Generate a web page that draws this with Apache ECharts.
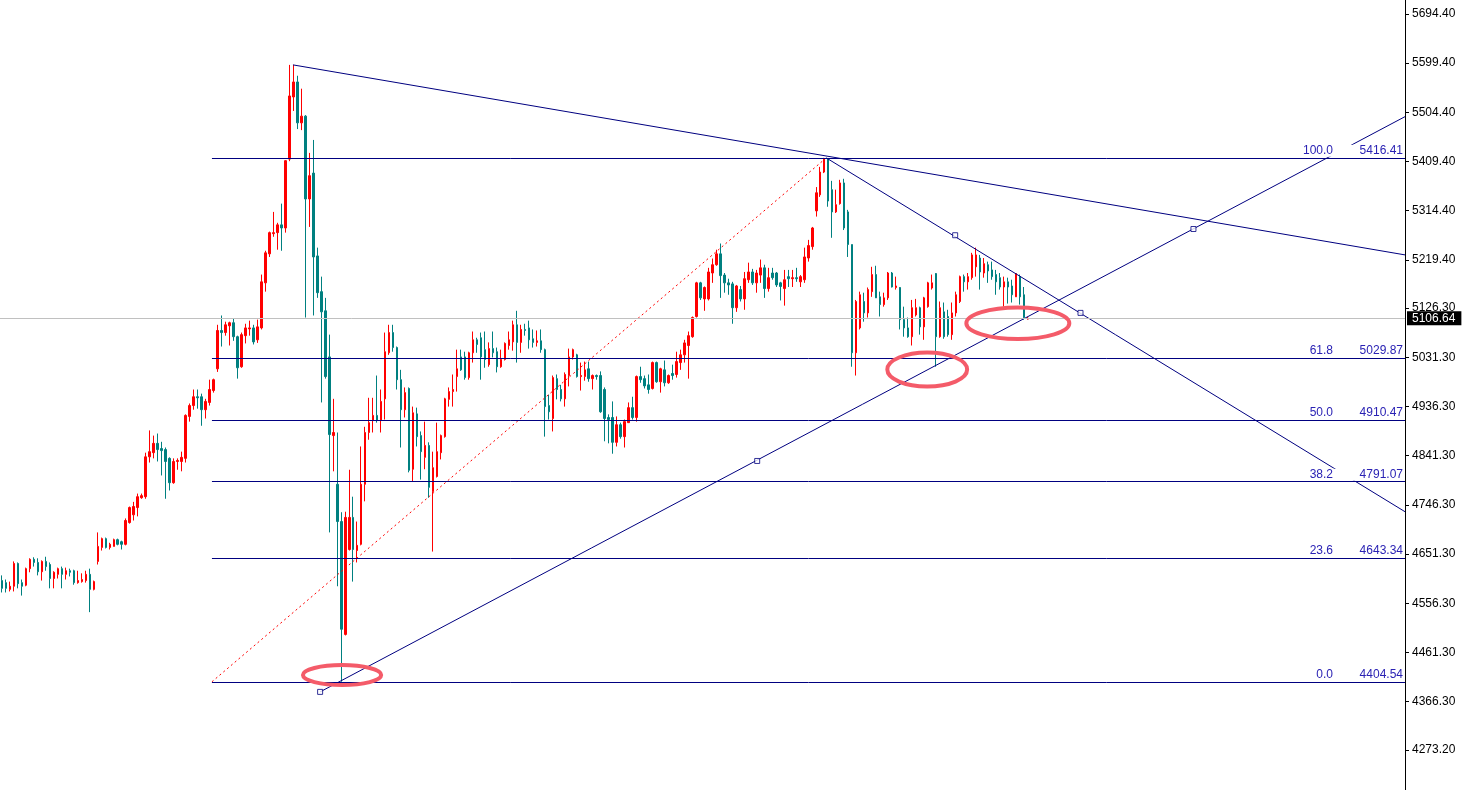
<!DOCTYPE html>
<html>
<head>
<meta charset="utf-8">
<title>fib chart</title>
<script src="https://cdn.jsdelivr.net/npm/echarts@6.0.0/dist/echarts.min.js"></script>
<style>
    html, body {margin: 0;padding: 0;background: #fff;}
    #chart {width: 1470px;height: 790px;}
</style>
</head>
<body>
<div id="chart"></div>
<script>
// candles: [open, close, low, high]
var candles = [
    [4600,4585,4577,4610],[4596,4585,4577,4602],[4583,4589,4579,4598],[4589,4633,4579,4637],[4633,4594,4585,4635],
    [4596,4589,4571,4602],[4591,4623,4589,4625],[4623,4641,4616,4643],[4641,4635,4627,4645],[4635,4617,4610,4643],
    [4617,4637,4600,4639],[4637,4627,4619,4646],[4631,4604,4585,4635],[4604,4616,4585,4618],[4612,4623,4604,4625],
    [4623,4612,4585,4627],[4612,4619,4602,4625],[4619,4616,4608,4623],[4619,4596,4592,4621],[4596,4600,4594,4619],
    [4598,4602,4596,4614],[4600,4612,4596,4619],[4612,4583,4539,4623],[4583,4598,4581,4600],[4637,4666,4631,4693],
    [4664,4681,4658,4683],[4681,4664,4662,4683],[4664,4670,4660,4673],[4666,4679,4666,4681],[4679,4670,4668,4681],
    [4675,4670,4660,4677],[4670,4716,4668,4720],[4712,4741,4710,4743],[4727,4743,4716,4752],[4741,4762,4724,4768],
    [4760,4764,4758,4768],[4762,4839,4758,4847],[4839,4849,4828,4890],[4847,4865,4836,4880],[4865,4853,4830,4884],
    [4855,4851,4803,4868],[4853,4830,4758,4857],[4836,4789,4774,4838],[4789,4830,4787,4836],[4830,4832,4814,4836],
    [4830,4838,4811,4849],[4836,4919,4828,4921],[4917,4938,4907,4942],[4938,4955,4930,4969],[4955,4953,4932,4969],
    [4955,4930,4899,4961],[4930,4946,4913,4951],[4944,4969,4938,4988],[4967,4988,4963,4990],[5009,5083,5003,5094],
    [5083,5079,5052,5112],[5079,5094,5073,5100],[5092,5098,5054,5100],[5098,5071,5063,5106],[5071,5011,4990,5073],
    [5013,5075,5011,5079],[5073,5088,5058,5096],[5086,5088,5073,5102],[5088,5061,5056,5094],[5065,5090,5059,5104],
    [5088,5177,5085,5191],[5175,5233,5158,5237],[5231,5272,5225,5274],[5270,5272,5264,5312],[5272,5287,5239,5291],
    [5287,5281,5237,5328],[5281,5411,5272,5412],[5414,5536,5410,5596],[5534,5563,5507,5596],[5563,5484,5472,5575],
    [5484,5497,5470,5550],[5497,5337,5108,5499],[5337,5382,5283,5426],[5387,5225,5112,5451],[5227,5156,5146,5243],
    [5158,5119,4944,5187],[5121,4994,4990,5146],[5032,4882,4693,5075],[4880,4886,4811,4951],[4786,4714,4589,4886],
    [4714,4506,4404.54,4732],[4496,4722,4494,4733],[4660,4722,4658,4814],[4722,4660,4598,4762],[4658,4668,4635,4714],
    [4670,4786,4668,4859],[4786,4886,4753,4897],[4886,4905,4872,4953],[4909,4919,4886,4953],[4919,4909,4905,4996],
    [4909,4946,4886,4969],[4951,5042,4911,5079],[5040,5079,5036,5094],[5079,5050,5042,5094],[5050,4988,4969,5052],
    [4988,4930,4857,5007],[4930,4963,4915,4973],[4971,4813,4809,4973],[4815,4924,4791,4936],[4922,4878,4859,4934],
    [4880,4849,4795,4888],[4838,4861,4815,4907],[4861,4780,4760,4867],[4772,4818,4656,4849],[4801,4849,4799,4905],
    [4847,4880,4834,4882],[4878,4951,4876,4953],[4950,4965,4936,4973],[4965,4969,4936,4998],[4994,5009,4965,5046],
    [5032,5007,5005,5046],[5032,4992,4988,5042],[4992,5040,4988,5042],[5040,5065,5021,5081],[5065,5056,5040,5069],
    [5069,5032,4988,5079],[5046,5027,5011,5081],[5017,5048,5013,5060],[5048,5040,5031,5081],[5042,5013,5002,5050],
    [5013,5027,5011,5046],[5027,5058,5025,5060],[5054,5065,5046,5081],[5061,5094,5044,5102],[5094,5060,5021,5121],
    [5060,5085,5040,5094],[5085,5083,5073,5096],[5088,5065,5048,5102],[5067,5060,5050,5085],[5060,5063,5052,5083],
    [5063,5046,5040,5085],[5046,4936,4878,5048],[4938,4926,4911,4959],[4913,4992,4888,4996],[4990,4969,4950,4998],
    [4969,4951,4946,4978],[4951,4998,4936,5002],[4996,5032,4975,5048],[5032,5046,5027,5048],[5036,4994,4992,5038],
    [4994,4996,4967,5021],[4994,5007,4986,5023],[5009,4990,4984,5023],[4990,4996,4969,4998],[4996,4994,4988,4998],
    [4996,4926,4924,5004],[4969,4913,4869,4973],[4915,4911,4865,4921],[4915,4867,4845,4946],[4867,4901,4859,4917],
    [4901,4878,4874,4905],[4878,4907,4857,4911],[4905,4934,4905,4944],[4934,4915,4911,4955],[4915,4994,4907,4996],
    [4994,4988,4982,5013],[4990,4976,4971,4996],[4978,4969,4961,4998],[4971,5021,4969,5023],[5021,4984,4982,5023],
    [4984,5009,4963,5011],[5007,4982,4975,5025],[4982,4996,4980,4998],[5000,4996,4988,5017],[4998,5023,4992,5042],
    [5021,5036,5007,5046],[5036,5059,5021,5065],[5054,5073,4990,5081],[5071,5108,5069,5110],[5110,5175,5108,5177],
    [5175,5146,5142,5177],[5144,5166,5121,5168],[5144,5196,5141,5204],[5194,5210,5175,5222],[5210,5231,5208,5239],
    [5231,5189,5146,5251],[5190,5175,5156,5194],[5175,5171,5152,5183],[5173,5127,5096,5177],[5127,5169,5119,5171],
    [5162,5144,5139,5169],[5144,5183,5123,5196],[5181,5196,5175,5214],[5196,5175,5171,5202],[5175,5194,5156,5200],
    [5190,5204,5175,5220],[5204,5164,5146,5210],[5164,5185,5158,5204],[5194,5185,5181,5204],[5194,5171,5167,5196],
    [5175,5168,5141,5177],[5164,5181,5131,5200],[5187,5183,5167,5200],[5183,5185,5167,5200],[5185,5183,5177,5204],
    [5177,5187,5167,5190],[5181,5225,5175,5243],[5223,5247,5216,5258],[5245,5281,5239,5283],[5314,5349,5303,5360],
    [5345,5389,5341,5399],[5389,5414,5387,5416.41],[5414,5333,5322,5416],[5355,5312,5262,5372],[5312,5326,5310,5355],
    [5328,5368,5326,5374],[5368,5281,5277,5376],[5312,5249,5225,5316],[5249,5040,5013,5249],[5040,5139,4996,5142],
    [5088,5152,5085,5158],[5139,5117,5100,5156],[5117,5162,5108,5166],[5158,5191,5148,5206],[5191,5146,5146,5208],
    [5148,5133,5110,5158],[5133,5146,5129,5156],[5146,5194,5142,5196],[5194,5167,5166,5196],[5166,5169,5162,5187],
    [5166,5104,5085,5167],[5104,5088,5071,5129],[5088,5071,5069,5108],[5071,5127,5054,5142],[5113,5127,5110,5144],
    [5127,5090,5075,5129],[5090,5146,5065,5148],[5129,5175,5127,5177],[5165,5175,5162,5191],[5193,5071,5013,5194],
    [5071,5127,5069,5139],[5119,5071,5067,5137],[5110,5075,5071,5123],[5075,5117,5065,5137],[5117,5152,5110,5158],
    [5139,5187,5136,5189],[5187,5177,5158,5191],[5177,5187,5162,5194],[5185,5229,5181,5233],[5206,5229,5187,5243],
    [5223,5196,5162,5229],[5194,5212,5185,5223],[5210,5198,5175,5216],[5200,5187,5181,5216],[5191,5177,5152,5200],
    [5185,5167,5162,5194],[5167,5177,5129,5187],[5177,5167,5135,5185],[5169,5152,5137,5181],[5148,5193,5148,5194],
    [5187,5148,5133,5191],[5152,5108,5104,5167],[5105,5106.64,5104,5109]
];
var lastPrice = 5106.64;
var slotCount = 352;   // bars that fit up to the price scale
var yTicks = [5694.40, 5599.40, 5504.40, 5409.40, 5314.40, 5219.40, 5126.30, 5031.30,
    4936.30, 4841.30, 4746.30, 4651.30, 4556.30, 4461.30, 4366.30, 4273.20];

// fibonacci retracement
var fibRatios = ['0.0', '23.6', '38.2', '50.0', '61.8', '100.0'];
var fibValues = [4404.54, 4643.34, 4791.07, 4910.47, 5029.87, 5416.41];
var fibFrom = 52.6;
var rightEdge = 351.5;
var fibDiagonal = [[52.6, 4404.54], [206.5, 5416.41]];

// trend lines [barIndex, price]
var trendA = [[72.9, 5596], [351.5, 5229]];
var trendB = [[206.5, 5416.41], [351.5, 4733]];
var trendC = [[79.7, 4385], [351.5, 5496]];
var anchorPoints = [[79.7, 4385], [189.2, 4831], [298.5, 5279], [238.8, 5267], [270.2, 5117]];

// ellipses [barIndex, price, half width in bars, half height in price]
var ellipses = [[85.2, 4417.6, 9.8, 19.3], [231.8, 5007.6, 10.0, 32.8], [254.5, 5096.9, 12.9, 30.3]];

var FONT = 'Liberation Sans';
var NAVY = '#000080';

var slots = [];
for (var i = 0; i < slotCount; i++) {
    slots.push(String(i));
}

function trendSeries(name, pts) {
    return {
        name: name,
        type: 'line',
        xAxisIndex: 1,
        yAxisIndex: 0,
        data: pts,
        symbol: 'none',
        silent: true,
        z: 3,
        lineStyle: {color: NAVY, width: 1}
    };
}

var chart = echarts.init(document.getElementById('chart'));
chart.setOption({
    animation: false,
    backgroundColor: '#fff',
    grid: {left: 0, right: 65, top: 0, bottom: 0},
    xAxis: [
        {type: 'category', data: slots, show: false, boundaryGap: true},
        {type: 'value', min: -0.5, max: rightEdge, show: false}
    ],
    yAxis: {
        type: 'value',
        position: 'right',
        min: 4195.5,
        max: 5721.3,
        splitLine: {show: false},
        axisLine: {show: true, onZero: false, lineStyle: {color: '#000', width: 1}},
        axisTick: {show: true, length: 4, customValues: yTicks, lineStyle: {color: '#000'}},
        axisLabel: {
            customValues: yTicks,
            margin: 7,
            color: '#000',
            fontSize: 12,
            fontFamily: FONT,
            formatter: function (v) { return v.toFixed(2); }
        }
    },
    series: [
        {
            name: 'price',
            type: 'candlestick',
            xAxisIndex: 0,
            yAxisIndex: 0,
            data: candles,
            barWidth: 2,
            itemStyle: {
                color: '#ff0000',
                borderColor: '#ff0000',
                color0: '#008080',
                borderColor0: '#008080',
                borderWidth: 1
            },
            markLine: {
                silent: true,
                symbol: ['none', 'none'],
                lineStyle: {color: '#c0c0c0', width: 1, type: 'solid'},
                label: {
                    position: 'end',
                    distance: 2,
                    backgroundColor: '#000',
                    color: '#fff',
                    fontSize: 12,
                    fontFamily: FONT,
                    padding: [1, 6, 1, 5],
                    formatter: function (p) { return p.value.toFixed(2); }
                },
                data: [{yAxis: lastPrice}]
            }
        },
        trendSeries('trendA', trendA),
        trendSeries('trendB', trendB),
        trendSeries('trendC', trendC),
        {
            name: 'fib',
            type: 'line',
            xAxisIndex: 1,
            yAxisIndex: 0,
            data: fibDiagonal,
            symbol: 'none',
            silent: true,
            z: 4,
            lineStyle: {color: '#ff0000', width: 1, type: [2, 3]},
            markLine: {
                silent: true,
                symbol: ['none', 'none'],
                lineStyle: {color: NAVY, width: 1, type: 'solid'},
                label: {
                    show: true,
                    position: 'insideEndTop',
                    distance: [2, 1],
                    backgroundColor: '#fff',
                    formatter: function (p) {
                        var idx = p.dataIndex;
                        return '{a|' + fibRatios[idx] + '}{b|' + fibValues[idx].toFixed(2) + '}';
                    },
                    rich: {
                        a: {width: 40, align: 'right', color: '#2a22b4', fontSize: 12, fontFamily: FONT},
                        b: {width: 70, align: 'right', color: '#2a22b4', fontSize: 12, fontFamily: FONT}
                    }
                },
                data: fibValues.map(function (v) {
                    return [{coord: [fibFrom, v]}, {coord: [rightEdge, v]}];
                })
            }
        },
        {
            name: 'anchors',
            type: 'scatter',
            xAxisIndex: 1,
            yAxisIndex: 0,
            data: anchorPoints,
            symbol: 'rect',
            symbolSize: 5,
            silent: true,
            z: 6,
            itemStyle: {color: '#fff', borderColor: NAVY, borderWidth: 1}
        },
        {
            name: 'marks',
            type: 'custom',
            xAxisIndex: 1,
            yAxisIndex: 0,
            data: ellipses,
            silent: true,
            z: 8,
            encode: {x: 0, y: 1},
            renderItem: function (params, api) {
                var c = api.coord([api.value(0), api.value(1)]);
                var s = api.size([api.value(2), api.value(3)]);
                return {
                    type: 'ellipse',
                    shape: {cx: c[0], cy: c[1], rx: s[0], ry: s[1]},
                    style: {fill: 'none', stroke: '#f45b69', lineWidth: 4}
                };
            }
        }
    ]
});
</script>
</body>
</html>
